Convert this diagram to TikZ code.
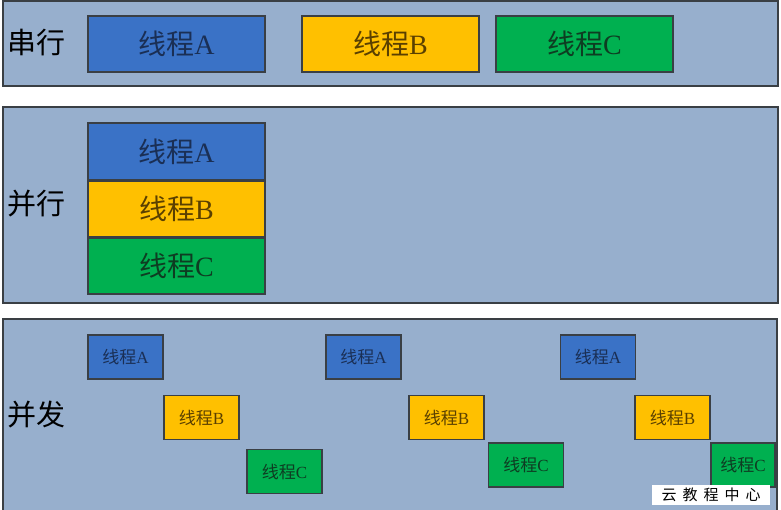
\documentclass[tikz,border=0pt]{standalone}
\usepackage{fontspec}
\setmainfont{Liberation Serif}
\newfontfamily\cjk{Noto Sans CJK SC}
\definecolor{panelc}{HTML}{97AFCD}
\definecolor{blueb}{HTML}{3A72C6}
\definecolor{orangeb}{HTML}{FFC000}
\definecolor{greenb}{HTML}{00B050}
\definecolor{edgec}{HTML}{3A3F44}
\definecolor{bluet}{HTML}{1A2F55}
\definecolor{oranget}{HTML}{5A4000}
\definecolor{greent}{HTML}{0E3D22}
\tikzset{
  panel/.style={draw=edgec, line width=1.3pt, fill=panelc},
  tbox/.style={draw=edgec, line width=1.2pt, inner sep=0pt, outer sep=0pt},
  big/.style={tbox, minimum width=177pt, minimum height=56pt, font=\fontsize{28}{30}\selectfont},
  small/.style={tbox, minimum width=75pt, minimum height=44pt, font=\fontsize{17}{19}\selectfont},
  ta/.style={fill=blueb, text=bluet},
  tb/.style={fill=orangeb, text=oranget},
  tc/.style={fill=greenb, text=greent},
  lab/.style={font=\cjk\fontsize{29}{32}\selectfont, text=black, anchor=west, inner sep=0pt}
}
\newcommand{\xc}{{\cjk 线程}}
\begin{document}
\begin{tikzpicture}[x=1pt,y=-1pt]
\useasboundingbox[fill=white] (0,0) rectangle (781,509);
% panels
\draw[panel] (3,1) rectangle (778,86);
\draw[panel] (3,107) rectangle (778,303);
\draw[panel] (3,319) rectangle (777,515);
% labels
\node[lab] (l1) at (7,43) {串行};
\node[lab] (l2) at (7,204) {并行};
\node[lab] (l3) at (7,415) {并发};
% serial
\node[big, ta] (sa) at (176.5,44) {\xc A};
\node[big, tb] (sb) at (390.5,44) {\xc B};
\node[big, tc] (sc) at (584.5,44) {\xc C};
% parallel
\node[big, ta, minimum height=57pt] (pa) at (176.5,151.5) {\xc A};
\node[big, tb] (pb) at (176.5,209) {\xc B};
\node[big, tc] (pc) at (176.5,266) {\xc C};
% concurrent
\node[small, ta] (ca1) at (125.5,357) {\xc A};
\node[small, tb] (cb1) at (201.5,417.5) {\xc B};
\node[small, tc] (cc1) at (284.5,471.5) {\xc C};
\node[small, ta] (ca2) at (363.5,357) {\xc A};
\node[small, tb] (cb2) at (446.5,417.5) {\xc B};
\node[small, tc] (cc2) at (526,465) {\xc C};
\node[small, ta] (ca3) at (598,357) {\xc A};
\node[small, tb] (cb3) at (672.5,417.5) {\xc B};
\node[small, tc, minimum width=64pt] (cc3) at (743,465) {\xc C};
% watermark
\node[fill=white, minimum width=118pt, minimum height=20pt, inner sep=0pt, font=\cjk\fontsize{15}{16}\selectfont] (wm) at (711,495) {云\hspace{6pt}教\hspace{6pt}程\hspace{6pt}中\hspace{6pt}心};
\end{tikzpicture}
\end{document}
